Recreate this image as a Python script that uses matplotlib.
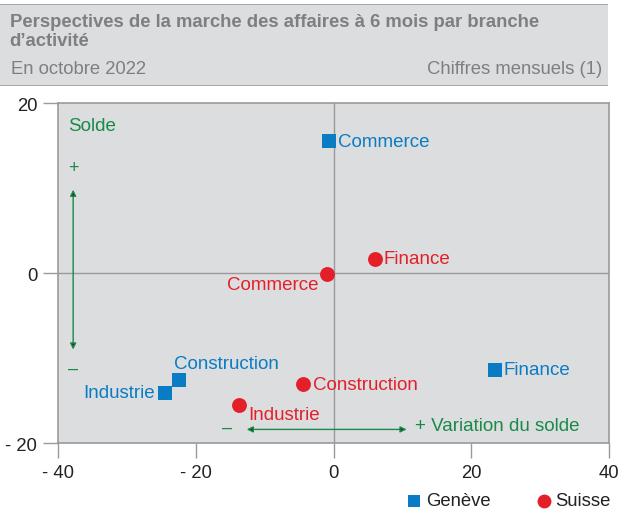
import matplotlib.pyplot as plt

plt.rcParams['font.family'] = ['Liberation Sans', 'DejaVu Sans']

# Genève (blue squares)
ge_labels = ['Commerce', 'Construction', 'Industrie', 'Finance']
ge_x = [-0.6, -22.4, -24.5, 23.4]
ge_y = [15.5, -12.6, -14.1, -11.4]

# Suisse (red circles)
ch_labels = ['Commerce', 'Finance', 'Construction', 'Industrie']
ch_x = [-1.0, 6.0, -4.4, -13.7]
ch_y = [-0.1, 1.7, -13.1, -15.5]

ticks = [-40, -20, 0, 20, 40]
tick_labels = ['- 40', '- 20', '0', '20', '40']
yticks = [-20, 0, 20]
ytick_labels = ['- 20', '0', '20']

blue = '#0a7cc4'
red = '#e3202a'
green = '#1a8a48'
grey_bg = '#dcdddf'
frame = '#9a9a9a'
lab_fs = 13.5

fig = plt.figure(figsize=(6.19, 5.10), dpi=100, facecolor='white')

# header band
hdr = fig.add_axes([0.0, 0.829, 0.982, 0.162])
hdr.set_xlim(0, 1)
hdr.set_ylim(0, 1)
hdr.axis('off')
hdr.axhspan(0, 1, color=grey_bg, zorder=0)
hdr.axhline(1, color=frame, lw=1.2)
hdr.axhline(0, color=frame, lw=1.2)
hdr.text(0.016, 0.89, "Perspectives de la marche des affaires à 6 mois par branche\nd\u2019activité",
         fontsize=13.3, fontweight='bold', color='#7f7f7f', va='top', ha='left', linespacing=1.2)
hdr.text(0.018, 0.21, 'En octobre 2022', fontsize=13.3, color='#7f7f7f', va='center', ha='left')
hdr.text(0.99, 0.21, 'Chiffres mensuels (1)', fontsize=13.3, color='#7f7f7f', va='center', ha='right')

ax = fig.add_axes([0.0937, 0.1294, 0.8903, 0.6666])
ax.set_facecolor(grey_bg)
ax.set_xlim(-40, 40)
ax.set_ylim(-20, 20)
for s in ax.spines.values():
    s.set_color(frame)
    s.set_linewidth(1.2)
ax.axhline(0, color=frame, lw=1.0, zorder=1)
ax.axvline(0, color=frame, lw=1.0, zorder=1)

ax.set_xticks(ticks)
ax.set_xticklabels(tick_labels)
ax.set_yticks(yticks)
ax.set_yticklabels(ytick_labels)
ax.tick_params(axis='both', direction='out', length=11, width=1.0, color=frame,
               labelsize=13.3, labelcolor='#222222', pad=4)

ax.scatter(ge_x, ge_y, marker='s', s=95, color=blue, zorder=3, linewidths=0)
ax.scatter(ch_x, ch_y, marker='o', s=115, color=red, zorder=3, linewidths=0)

# labels Genève
ge_off = {'Commerce': (1.3, 0, 'left', 'center'),
          'Construction': (-0.8, 0.9, 'left', 'bottom'),
          'Industrie': (-1.5, 0, 'right', 'center'),
          'Finance': (1.2, 0, 'left', 'center')}
for lab, x, y in zip(ge_labels, ge_x, ge_y):
    dx, dy, ha, va = ge_off[lab]
    ax.text(x + dx, y + dy, lab, color=blue, fontsize=lab_fs, ha=ha, va=va, zorder=4)

ch_off = {'Commerce': (-1.2, -1.2, 'right', 'center'),
          'Finance': (1.3, 0, 'left', 'center'),
          'Construction': (1.4, 0, 'left', 'center'),
          'Industrie': (1.3, -1.2, 'left', 'center')}
for lab, x, y in zip(ch_labels, ch_x, ch_y):
    dx, dy, ha, va = ch_off[lab]
    ax.text(x + dx, y + dy, lab, color=red, fontsize=lab_fs, ha=ha, va=va, zorder=4)

# Solde arrow
ax.text(-38.6, 17.4, 'Solde', color=green, fontsize=lab_fs, ha='left', va='center')
ax.text(-37.8, 12.4, '+', color=green, fontsize=13, ha='center', va='center')
ax.text(-37.8, -11.2, '\u2013', color=green, fontsize=13, ha='center', va='center')
ax.annotate('', xy=(-37.8, 9.8), xytext=(-37.8, -9.0),
            arrowprops=dict(arrowstyle='<|-|>', color=green, lw=1.0,
                            mutation_scale=9, shrinkA=0, shrinkB=0, fc='#333333'))

# Variation arrow
ax.text(-15.5, -18.2, '\u2013', color=green, fontsize=13, ha='center', va='center')
ax.text(11.8, -17.9, '+ Variation du solde', color=green, fontsize=lab_fs, ha='left', va='center')
ax.annotate('', xy=(10.6, -18.4), xytext=(-12.6, -18.4),
            arrowprops=dict(arrowstyle='<|-|>', color=green, lw=1.0,
                            mutation_scale=9, shrinkA=0, shrinkB=0, fc='#333333'))

# legend
leg = fig.add_axes([0, 0, 1, 0.06])
leg.set_xlim(0, 619)
leg.set_ylim(30.6, 0)
leg.axis('off')
leg.scatter([414], [22.5], marker='s', s=80, color=blue, linewidths=0)
leg.text(426, 22.5, 'Genève', color='#222222', fontsize=13.3, ha='left', va='center')
leg.scatter([544], [22.5], marker='o', s=100, color=red, linewidths=0)
leg.text(555, 22.5, 'Suisse', color='#222222', fontsize=13.3, ha='left', va='center')

fig.savefig('out.png', dpi=100, facecolor='white')
